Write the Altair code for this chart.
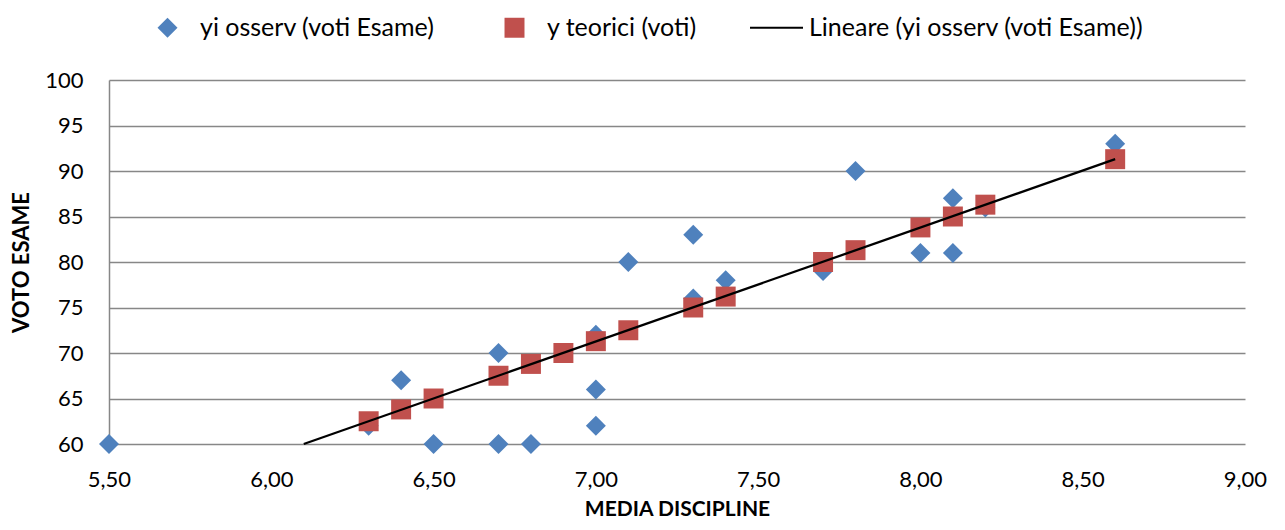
import altair as alt
import pandas as pd

# observed values (blue diamonds)
x_obs = [5.5, 6.3, 6.4, 6.5, 6.7, 6.7, 6.8, 6.9, 7.0, 7.0, 7.0, 7.1, 7.3, 7.3, 7.4, 7.7, 7.8, 8.0, 8.1, 8.1, 8.2, 8.6]
y_obs = [60, 62, 67, 60, 70, 60, 60, 70, 72, 66, 62, 80, 83, 76, 78, 79, 90, 81, 87, 81, 86, 93]

# theoretical values (red squares)
x_teo = [6.3, 6.4, 6.5, 6.7, 6.8, 6.9, 7.0, 7.1, 7.3, 7.4, 7.7, 7.8, 8.0, 8.1, 8.2, 8.6]
y_teo = [62.5, 63.8, 65.0, 67.5, 68.8, 70.0, 71.3, 72.5, 75.0, 76.2, 80.0, 81.3, 83.8, 85.0, 86.3, 91.3]

# linear trend line end points
x_line = [6.1, 8.6]
y_line = [60.0, 91.3]

series = ["yi osserv (voti Esame)", "y teorici (voti)", "Lineare (yi osserv (voti Esame))"]
colors = ["#4F81BD", "#C0504D", "#000000"]
shapes = [
    "M-0.377,0L0,-0.377L0.377,0L0,0.377Z",
    "M-0.377,-0.377H0.377V0.377H-0.377Z",
    "M-1,-0.042H1V0.042H-1Z",
]

x_ticks = [5.5, 6.0, 6.5, 7.0, 7.5, 8.0, 8.5, 9.0]
y_ticks = [60, 65, 70, 75, 80, 85, 90, 95, 100]

df_obs = pd.DataFrame({"x": x_obs, "y": y_obs, "s": series[0]})
df_teo = pd.DataFrame({"x": x_teo, "y": y_teo, "s": series[1]})
df_line = pd.DataFrame({"x": x_line, "y": y_line, "s": series[2]})

FONT = "Lato"
BOX = 2809  # symbol box (53 px square)

xenc = alt.X(
    "x:Q",
    scale=alt.Scale(domain=[5.5, 9.0], nice=False, zero=False),
    axis=alt.Axis(
        title="MEDIA DISCIPLINE",
        values=x_ticks,
        labelExpr="replace(format(datum.value, '.2f'), '.', ',')",
        grid=False,
        domain=False,
        ticks=False,
        tickSize=0,
        labelPadding=42,
        labelBaseline="alphabetic",
        labelFontSize=22,
        titleFontSize=21,
        titleFontWeight="bold",
        titleBaseline="middle",
        titleY=65,
        labelFlush=False,
    ),
)
yenc = alt.Y(
    "y:Q",
    scale=alt.Scale(domain=[60, 100], nice=False, zero=False),
    axis=alt.Axis(
        title="VOTO ESAME",
        values=y_ticks,
        grid=True,
        gridColor="#878787",
        gridWidth=1.5,
        domain=True,
        domainColor="#878787",
        domainWidth=1.5,
        ticks=False,
        tickSize=0,
        labelPadding=26,
        labelFontSize=22,
        titleFontSize=22,
        titleFontWeight="bold",
        titleAngle=-90,
        titleAlign="center",
        titleBaseline="middle",
        titleX=-88,
        titleY=182,
    ),
)

color = alt.Color(
    "s:N",
    scale=alt.Scale(domain=series, range=colors),
    legend=alt.Legend(
        title=None,
        orient="none",
        direction="horizontal",
        legendX=32,
        legendY=-79,
        symbolSize=BOX,
        symbolStrokeWidth=0,
        labelFontSize=25,
        labelFont=FONT,
        labelColor="#000000",
        labelLimit=0,
        labelOffset=6,
        columnPadding=53,
        padding=0,
    ),
)
shape = alt.Shape("s:N", scale=alt.Scale(domain=series, range=shapes))

pts_obs = alt.Chart(df_obs).mark_point(filled=True, size=BOX, opacity=1).encode(
    x=xenc, y=yenc, color=color, shape=shape
)
pts_teo = alt.Chart(df_teo).mark_point(filled=True, size=BOX, opacity=1).encode(
    x=xenc, y=yenc, color=color, shape=shape
)
line = alt.Chart(df_line).mark_line(strokeWidth=2.3).encode(x=xenc, y=yenc, color=color)

chart = (
    alt.layer(pts_obs, pts_teo, line)
    .properties(
        width=1136,
        height=364,
        autosize=alt.AutoSizeParams(type="none"),
        padding={"left": 101, "top": 72, "right": 32, "bottom": 78},
    )
    .configure_view(stroke=None)
    .configure_axis(labelFont=FONT, titleFont=FONT, labelColor="#000000", titleColor="#000000")
)

chart.save("out.html", embed_options={"renderer": "svg", "actions": False})
